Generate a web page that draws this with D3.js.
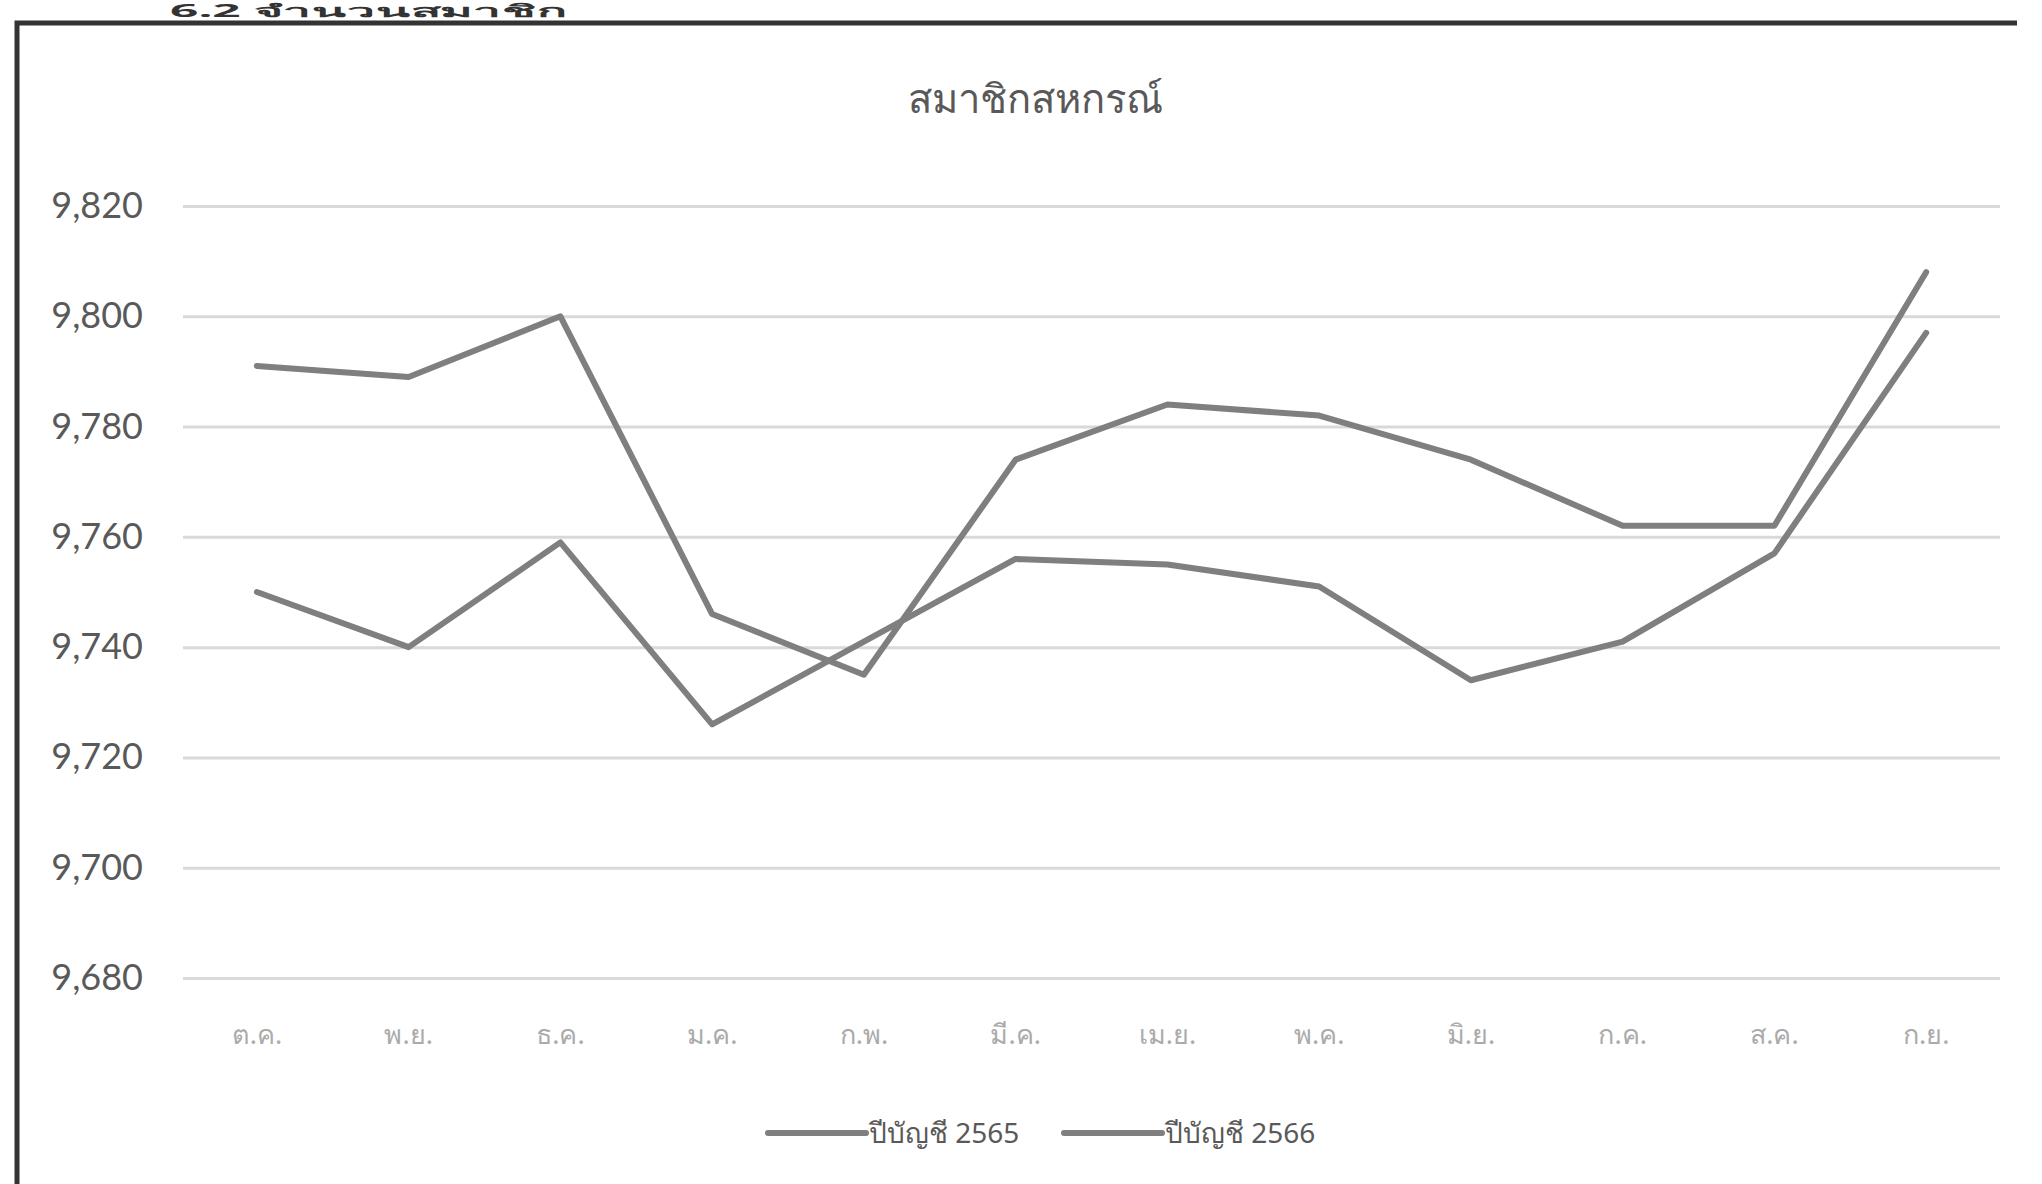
<!DOCTYPE html>
<html>
<head>
<meta charset="utf-8">
<script src="https://cdn.jsdelivr.net/npm/d3@7"></script>
<style>
  body { margin: 0; background: #fff; }
  svg { display: block; }
</style>
</head>
<body>
<div id="chart"></div>
<script>
// Chart data
const months = ["ต.ค.", "พ.ย.", "ธ.ค.", "ม.ค.", "ก.พ.", "มี.ค.", "เม.ย.", "พ.ค.", "มิ.ย.", "ก.ค.", "ส.ค.", "ก.ย."];
const seriesNames = ["ปีบัญชี 2565", "ปีบัญชี 2566"];
const values2565 = [9750, 9740, 9759, 9726, 9741, 9756, 9755, 9751, 9734, 9741, 9757, 9797];
const values2566 = [9791, 9789, 9800, 9746, 9735, 9774, 9784, 9782, 9774, 9762, 9762, 9808];
const yTicks = [9680, 9700, 9720, 9740, 9760, 9780, 9800, 9820];
const chartTitle = "สมาชิกสหกรณ์";
const headingText = "6.2  จำนวนสมาชิก";

const width = 2042;
const height = 1184;
const plot = { left: 181, right: 2002, top: 206, bottom: 978 };
const lineColor = "#7f7f7f";
const gridColor = "#d9d9d9";
const textColor = "#595959";

const svg = d3.select("#chart")
    .append("svg")
    .attr("width", width)
    .attr("height", height);

svg.append("rect")
    .attr("width", width)
    .attr("height", height)
    .attr("fill", "#fff");

// Heading of the page section, squeezed into the strip above the box
svg.append("text")
    .attr("x", 170)
    .attr("y", 17)
    .attr("font-family", "'Noto Sans', sans-serif")
    .attr("font-weight", "bold")
    .attr("font-size", 17)
    .attr("textLength", 396)
    .attr("lengthAdjust", "spacingAndGlyphs")
    .attr("fill", "#333")
    .text(headingText);

// Frame of the chart box (top and left edges are visible)
svg.append("path")
    .attr("d", `M17,${height} L17,23 L2017,23`)
    .attr("fill", "none")
    .attr("stroke", "#333")
    .attr("stroke-width", 5);

// Scales
const xScale = d3.scaleBand()
    .domain(months)
    .range([plot.left, plot.right]);

const xMid = d => xScale(d) + xScale.bandwidth() / 2;

const yScale = d3.scaleLinear()
    .domain([9680, 9820])
    .range([plot.bottom, plot.top]);

// Gridlines
const grid = svg.append("g")
    .attr("transform", `translate(${plot.left + 2},0)`)
    .call(d3.axisRight(yScale)
        .tickValues(yTicks)
        .tickSize(plot.right - plot.left - 4)
        .tickFormat(""));
grid.select(".domain").remove();
grid.selectAll("line")
    .attr("stroke", gridColor)
    .attr("stroke-width", 3);

// Y axis labels
const yAxis = svg.append("g")
    .attr("transform", `translate(146,0)`)
    .call(d3.axisLeft(yScale)
        .tickValues(yTicks)
        .tickSize(0)
        .tickPadding(3)
        .tickFormat(d3.format(",")));
yAxis.select(".domain").remove();
yAxis.selectAll("text")
    .attr("font-family", "Lato, 'Open Sans', sans-serif")
    .attr("font-size", 36)
    .attr("fill", textColor);

// X axis labels
const xAxis = svg.append("g")
    .attr("transform", `translate(0,1025)`)
    .call(d3.axisBottom(xScale).tickSize(0).tickPadding(0));
xAxis.select(".domain").remove();
xAxis.selectAll("text")
    .attr("font-family", "'Noto Sans', sans-serif")
    .attr("font-size", 27)
    .attr("fill", "#ababab");

// Lines
const line = d3.line()
    .x((d, i) => xMid(months[i]))
    .y(d => yScale(d));

[values2565, values2566].forEach(values => {
    svg.append("path")
        .datum(values)
        .attr("d", line)
        .attr("fill", "none")
        .attr("stroke", lineColor)
        .attr("stroke-width", 6)
        .attr("stroke-linejoin", "round")
        .attr("stroke-linecap", "round");
});

// Title
svg.append("text")
    .attr("x", 1035)
    .attr("y", 113)
    .attr("text-anchor", "middle")
    .attr("font-family", "'Noto Sans', sans-serif")
    .attr("font-size", 40)
    .attr("fill", textColor)
    .text(chartTitle);

// Legend
const legend = svg.append("g")
    .attr("transform", `translate(768,1133)`);

const legendItems = legend.selectAll(".legend-item")
    .data(seriesNames)
    .enter().append("g")
    .attr("class", "legend-item")
    .attr("transform", (d, i) => `translate(${i * 296},0)`);

legendItems.append("line")
    .attr("x1", 0)
    .attr("x2", 98)
    .attr("stroke", lineColor)
    .attr("stroke-width", 6)
    .attr("stroke-linecap", "round");

legendItems.append("text")
    .attr("x", 101)
    .attr("dy", "0.35em")
    .attr("font-family", "'Noto Sans', sans-serif")
    .attr("font-size", 28)
    .attr("fill", textColor)
    .text(d => d);
</script>
</body>
</html>
